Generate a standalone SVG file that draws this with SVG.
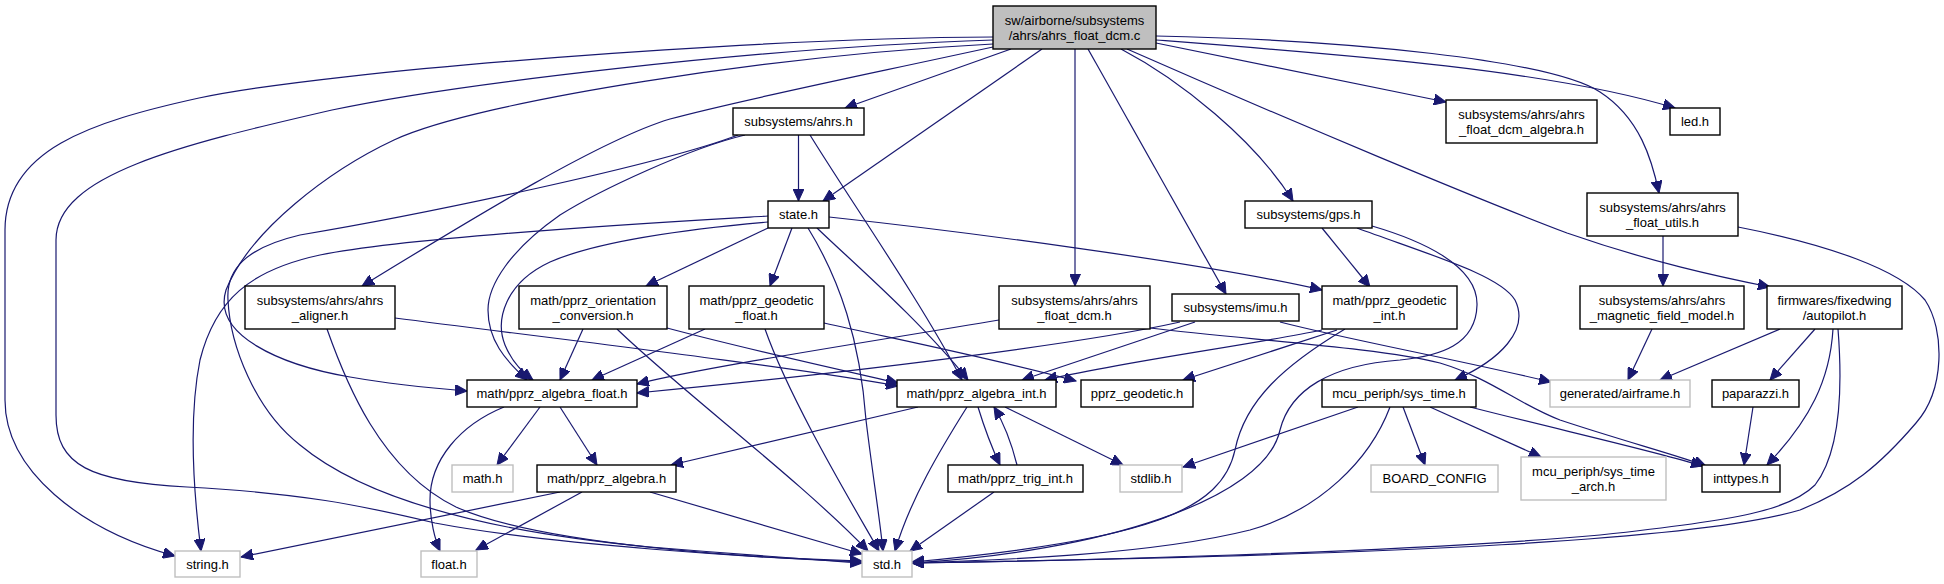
<svg xmlns="http://www.w3.org/2000/svg" width="1944" height="584" viewBox="0 0 1944 584">
<style>
.n rect{fill:#fff;stroke:#000;stroke-width:1.4}
.g rect{fill:#fff;stroke:#bfbfbf;stroke-width:1.4}
.m rect{fill:#bfbfbf;stroke:#000;stroke-width:1.4}
text{font-family:"Liberation Sans",Arial,sans-serif;font-size:13px;text-anchor:middle;fill:#000}
#edges path{fill:none;stroke:#191970;stroke-width:1.2;marker-end:url(#a)}
</style>
<defs>
<marker id="a" markerWidth="13" markerHeight="11" refX="12" refY="5.5" orient="auto" markerUnits="userSpaceOnUse">
<path d="M0,0 L12,5.5 L0,11 z" fill="#191970" stroke="#191970" stroke-width="1"/>
</marker>
</defs>
<rect x="0" y="0" width="1944" height="584" fill="#fff"/>
<g id="edges">
<path d="M993,37 C760,38 330,70 199,98 C90,122 5,150 5,230 L5,400 C5,470 80,530 175,556"/>
<path d="M993,40 C750,48 450,85 332,110 C180,145 56,175 56,240 L56,415 C56,465 90,482 187,487 C300,493 360,505 435,523 C550,545 760,558 862,562"/>
<path d="M993,44 C780,55 480,100 394,140 C330,170 250,230 226,290 C212,335 280,365 350,377 C390,384 430,388 467,391"/>
<path d="M993,47 C850,78 740,100 670,119 C600,140 470,220 362,286"/>
<path d="M1011,49 L845,108"/>
<path d="M1042,49 L823,201"/>
<path d="M1075,49 L1075,286"/>
<path d="M1088,49 L1226,294"/>
<path d="M1121,49 C1180,80 1255,140 1293,201"/>
<path d="M1127,49 C1300,125 1480,200 1567,233 C1650,262 1720,277 1770,287"/>
<path d="M1156,36 C1350,40 1550,60 1600,92 C1640,118 1652,160 1659,193"/>
<path d="M1156,40 C1350,55 1550,70 1675,108"/>
<path d="M1156,43 L1446,102"/>
<path d="M798.5,135 L798.5,201"/>
<path d="M810,135 C850,200 920,300 962,380"/>
<path d="M745,135 C690,148 600,190 560,215 C510,250 488,285 488,310 C488,340 505,360 527,380"/>
<path d="M738,135 C660,165 420,215 300,235 C245,248 226,270 228,300 C230,345 255,410 300,445 C360,495 470,530 650,547 C760,556 820,560 862,563"/>
<path d="M768,216 C700,220 420,235 320,255 C250,270 215,300 200,360 C190,410 192,480 201,551"/>
<path d="M768,222 C700,228 600,240 550,262 C505,283 495,320 505,345 C512,362 522,372 533,380"/>
<path d="M768,228 L646,286"/>
<path d="M792,228 L770,286"/>
<path d="M808,228 C840,280 860,340 866,420 C872,470 880,520 883,551"/>
<path d="M817,228 C850,260 920,320 968,380"/>
<path d="M829,217 C950,230 1200,262 1322,290"/>
<path d="M395,318 C550,338 780,365 898,386"/>
<path d="M327,329 C345,380 380,470 456,507 C540,545 750,558 862,561"/>
<path d="M583,329 L560,380"/>
<path d="M667,328 C750,350 850,372 898,383"/>
<path d="M617,329 C680,390 800,480 868,551"/>
<path d="M705,329 L592,380"/>
<path d="M824,323 C900,340 1000,360 1076,381"/>
<path d="M765,329 C790,400 850,500 879,551"/>
<path d="M999,320 C850,345 700,368 637,384"/>
<path d="M1150,328 C1250,340 1380,348 1440,363 C1490,378 1520,405 1560,420 C1620,440 1680,456 1706,466"/>
<path d="M1195,322 L1022,380"/>
<path d="M1180,322 C1100,340 900,368 637,393"/>
<path d="M1280,322 C1350,340 1450,358 1551,382"/>
<path d="M1322,330 C1250,345 1120,362 1045,380"/>
<path d="M1337,330 L1183,380"/>
<path d="M1345,329 C1285,365 1245,400 1235,450 C1222,510 1150,540 912,562"/>
<path d="M1322,228 L1370,287"/>
<path d="M1372,226 C1420,240 1478,265 1477,305 C1476,345 1440,356 1400,360 C1330,365 1290,390 1280,430 C1265,500 1100,552 912,563"/>
<path d="M1357,228 C1430,255 1500,275 1515,300 C1530,330 1500,360 1455,380"/>
<path d="M1663,236 L1663,286"/>
<path d="M1738,227 C1830,245 1900,270 1925,300 C1945,330 1945,390 1916,423 C1880,465 1850,490 1800,510 C1700,540 1400,555 912,563"/>
<path d="M1652,329 L1628,380"/>
<path d="M1780,329 L1660,380"/>
<path d="M1815,329 L1770,380"/>
<path d="M1833,329 C1830,380 1810,420 1767,465"/>
<path d="M1838,329 C1842,380 1842,450 1815,485 C1790,510 1740,520 1600,535 C1400,553 1050,561 912,563"/>
<path d="M540,407 L497,465"/>
<path d="M560,407 L597,465"/>
<path d="M504,407 C460,425 430,460 430,500 C430,520 435,540 440,551"/>
<path d="M918,407 L671,465"/>
<path d="M967,407 C940,450 910,500 895,551"/>
<path d="M978,407 C985,430 992,448 1000,465"/>
<path d="M1005,407 L1123,465"/>
<path d="M560,492 L241,557"/>
<path d="M582,492 L476,550"/>
<path d="M650,492 L862,554"/>
<path d="M1017,465 C1012,445 1005,425 994,407"/>
<path d="M994,492 L910,551"/>
<path d="M1358,407 L1183,467"/>
<path d="M1403,407 L1425,465"/>
<path d="M1430,407 L1541,457"/>
<path d="M1470,407 C1560,430 1650,450 1703,466"/>
<path d="M1390,407 C1370,460 1320,510 1250,530 C1150,555 1000,560 912,563"/>
<path d="M1753,407 L1744,465"/>
</g>
<g id="n0" class="m"><rect x="993" y="6" width="163" height="43"/><text x="1074.5" y="24.5">sw/airborne/subsystems</text><text x="1074.5" y="39.5">/ahrs/ahrs_float_dcm.c</text></g>
<g id="n1" class="n"><rect x="733" y="108" width="131" height="27"/><text x="798.5" y="126">subsystems/ahrs.h</text></g>
<g id="n2" class="n"><rect x="768" y="201" width="61" height="27"/><text x="798.5" y="219">state.h</text></g>
<g id="n3" class="n"><rect x="1446" y="100" width="151" height="43"/><text x="1521.5" y="118.5">subsystems/ahrs/ahrs</text><text x="1521.5" y="133.5">_float_dcm_algebra.h</text></g>
<g id="n4" class="n"><rect x="1670" y="108" width="50" height="27"/><text x="1695" y="126">led.h</text></g>
<g id="n5" class="n"><rect x="1245" y="201" width="127" height="27"/><text x="1308.5" y="219">subsystems/gps.h</text></g>
<g id="n6" class="n"><rect x="1587" y="193" width="151" height="43"/><text x="1662.5" y="211.5">subsystems/ahrs/ahrs</text><text x="1662.5" y="226.5">_float_utils.h</text></g>
<g id="n7" class="n"><rect x="245" y="286" width="150" height="43"/><text x="320" y="304.5">subsystems/ahrs/ahrs</text><text x="320" y="319.5">_aligner.h</text></g>
<g id="n8" class="n"><rect x="519" y="286" width="148" height="43"/><text x="593" y="304.5">math/pprz_orientation</text><text x="593" y="319.5">_conversion.h</text></g>
<g id="n9" class="n"><rect x="689" y="286" width="135" height="43"/><text x="756.5" y="304.5">math/pprz_geodetic</text><text x="756.5" y="319.5">_float.h</text></g>
<g id="n10" class="n"><rect x="999" y="286" width="151" height="43"/><text x="1074.5" y="304.5">subsystems/ahrs/ahrs</text><text x="1074.5" y="319.5">_float_dcm.h</text></g>
<g id="n11" class="n"><rect x="1172" y="294" width="127" height="27"/><text x="1235.5" y="312">subsystems/imu.h</text></g>
<g id="n12" class="n"><rect x="1322" y="286" width="135" height="43"/><text x="1389.5" y="304.5">math/pprz_geodetic</text><text x="1389.5" y="319.5">_int.h</text></g>
<g id="n13" class="n"><rect x="1580" y="286" width="164" height="43"/><text x="1662" y="304.5">subsystems/ahrs/ahrs</text><text x="1662" y="319.5">_magnetic_field_model.h</text></g>
<g id="n14" class="n"><rect x="1767" y="286" width="135" height="43"/><text x="1834.5" y="304.5">firmwares/fixedwing</text><text x="1834.5" y="319.5">/autopilot.h</text></g>
<g id="n15" class="n"><rect x="467" y="380" width="170" height="27"/><text x="552" y="398">math/pprz_algebra_float.h</text></g>
<g id="n16" class="n"><rect x="897" y="380" width="159" height="27"/><text x="976.5" y="398">math/pprz_algebra_int.h</text></g>
<g id="n17" class="n"><rect x="1081" y="380" width="112" height="27"/><text x="1137" y="398">pprz_geodetic.h</text></g>
<g id="n18" class="n"><rect x="1322" y="380" width="154" height="27"/><text x="1399" y="398">mcu_periph/sys_time.h</text></g>
<g id="n19" class="g"><rect x="1550" y="380" width="140" height="27"/><text x="1620" y="398">generated/airframe.h</text></g>
<g id="n20" class="n"><rect x="1712" y="380" width="87" height="27"/><text x="1755.5" y="398">paparazzi.h</text></g>
<g id="n21" class="g"><rect x="452" y="465" width="61" height="27"/><text x="482.5" y="483">math.h</text></g>
<g id="n22" class="n"><rect x="537" y="465" width="139" height="27"/><text x="606.5" y="483">math/pprz_algebra.h</text></g>
<g id="n23" class="n"><rect x="948" y="465" width="135" height="27"/><text x="1015.5" y="483">math/pprz_trig_int.h</text></g>
<g id="n24" class="g"><rect x="1120" y="465" width="62" height="27"/><text x="1151" y="483">stdlib.h</text></g>
<g id="n25" class="g"><rect x="1371" y="465" width="127" height="27"/><text x="1434.5" y="483">BOARD_CONFIG</text></g>
<g id="n26" class="g"><rect x="1521" y="457" width="145" height="43"/><text x="1593.5" y="475.5">mcu_periph/sys_time</text><text x="1593.5" y="490.5">_arch.h</text></g>
<g id="n27" class="n"><rect x="1702" y="465" width="78" height="27"/><text x="1741" y="483">inttypes.h</text></g>
<g id="n28" class="g"><rect x="175" y="551" width="65" height="26"/><text x="207.5" y="568.5">string.h</text></g>
<g id="n29" class="g"><rect x="421" y="551" width="56" height="26"/><text x="449" y="568.5">float.h</text></g>
<g id="n30" class="g"><rect x="862" y="551" width="50" height="26"/><text x="887" y="568.5">std.h</text></g>
</svg>
